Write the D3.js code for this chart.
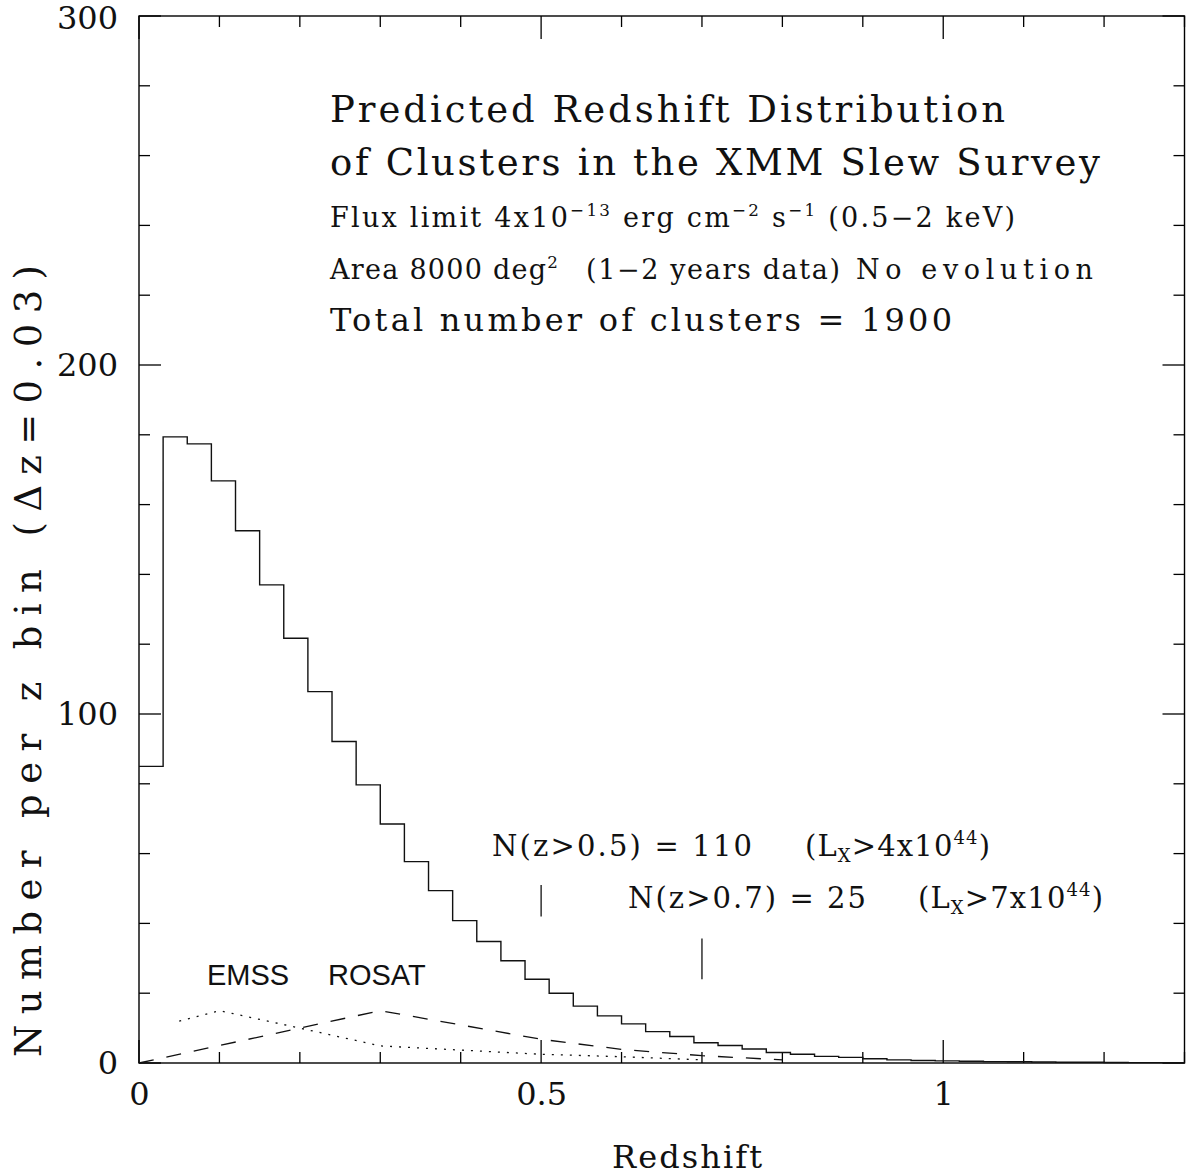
<!DOCTYPE html>
<html>
<head>
<meta charset="utf-8">
<script src="https://cdn.jsdelivr.net/npm/d3@7"></script>
<style>
  body { margin: 0; background: #fff; }
  text { font-family: "DejaVu Serif", serif; fill: #111; }
  .sans { font-family: "Liberation Sans", Arial, sans-serif; }
</style>
</head>
<body>
<div id="graph"></div>
<script>
// DATA

// histogram, bins of dz = 0.03 starting at z = 0
let binWidth = 0.03;
let counts = [85, 179.4, 177.4, 166.8, 152.5, 137, 121.7, 106.4, 92.1, 79.7,
    68.5, 57.7, 49.4, 40.8, 34.8, 29.3, 24.0, 20.0, 16.3, 13.5,
    11.2, 9.0, 7.6, 5.8, 5.0, 4.0, 3.0, 2.5, 1.9, 1.6,
    1.2, 0.9, 0.7, 0.6, 0.5, 0.4, 0.35, 0.3, 0.2, 0.2,
    0.15, 0.1, 0.1, 0.1];

// EMSS (dotted) and ROSAT (dashed) curves
let emssZ = [0.05, 0.1, 0.2, 0.3, 0.4, 0.5, 0.6, 0.7];
let emssN = [12, 15, 10, 4.9, 3.7, 2.5, 1.8, 0.9];
let rosatZ = [0, 0.1, 0.2, 0.3, 0.4, 0.5, 0.6, 0.7, 0.8];
let rosatN = [0, 5, 10, 15, 10.9, 6.8, 3.9, 2.1, 0.9];

// small vertical markers at z = 0.5 and z = 0.7
let markerZ = [0.5, 0.7];
let markerLow = [42, 24];
let markerHigh = [51, 35.7];

// ticks
let xLabels = [0, 0.5, 1];
let xMinor = d3.range(0, 1.3001, 0.1);
let yLabels = [0, 100, 200, 300];
let yMinor = d3.range(0, 300.001, 20);

// DIMENSIONS
let width = 1186, height = 1175;
let plotLeft = 139, plotRight = 1184.5, plotTop = 16, plotBottom = 1063;

let x = d3.scaleLinear().domain([0, 1.3]).range([plotLeft, plotRight]);
let y = d3.scaleLinear().domain([0, 300]).range([plotBottom, plotTop]);

let svg = d3.select('#graph').append('svg')
    .attr('width', width)
    .attr('height', height)
    .style('display', 'block');

svg.append('rect').attr('width', width).attr('height', height).attr('fill', '#fff');

// frame
svg.append('rect')
    .attr('x', plotLeft).attr('y', plotTop)
    .attr('width', plotRight - plotLeft).attr('height', plotBottom - plotTop)
    .attr('fill', 'none').attr('stroke', '#000').attr('stroke-width', 1.4);

// tick marks on all four sides
let ticks = svg.append('g').attr('stroke', '#000').attr('stroke-width', 1.3);

xMinor.forEach(function(v) {
    let major = xLabels.some(l => Math.abs(l - v) < 1e-6);
    let len = major ? 23 : 11;
    let px = x(v);
    ticks.append('line').attr('x1', px).attr('x2', px).attr('y1', plotBottom).attr('y2', plotBottom - len);
    ticks.append('line').attr('x1', px).attr('x2', px).attr('y1', plotTop).attr('y2', plotTop + len);
});

yMinor.forEach(function(v) {
    let major = yLabels.indexOf(Math.round(v)) >= 0;
    let len = major ? 22 : 11;
    let py = y(v);
    ticks.append('line').attr('x1', plotLeft).attr('x2', plotLeft + len).attr('y1', py).attr('y2', py);
    ticks.append('line').attr('x1', plotRight).attr('x2', plotRight - len).attr('y1', py).attr('y2', py);
});

// tick labels
let xAxis = svg.append('g')
    .attr('transform', 'translate(0,' + plotBottom + ')')
    .call(d3.axisBottom(x).tickValues(xLabels).tickSize(0).tickPadding(19).tickFormat(d => String(d)));
xAxis.select('.domain').remove();
xAxis.selectAll('text').attr('font-family', '"DejaVu Serif", serif').attr('font-size', 32).attr('fill', '#111');

let yAxis = svg.append('g')
    .attr('transform', 'translate(' + plotLeft + ',0)')
    .call(d3.axisLeft(y).tickValues(yLabels).tickSize(0).tickPadding(21).tickFormat(d => String(d)));
yAxis.select('.domain').remove();
yAxis.selectAll('text').attr('font-family', '"DejaVu Serif", serif').attr('font-size', 32).attr('fill', '#111');
yAxis.selectAll('text').filter(d => d === 300).attr('dy', '0.40em');

// HISTOGRAM
let steps = counts.map((c, i) => [i * binWidth, c]);
steps.push([1.3, counts[counts.length - 1]]);

let stepLine = d3.line()
    .x(d => x(d[0]))
    .y(d => y(d[1]))
    .curve(d3.curveStepAfter);

svg.append('path')
    .attr('d', stepLine(steps))
    .attr('fill', 'none')
    .attr('stroke', '#111')
    .attr('stroke-width', 1.4);

// EMSS / ROSAT curves
let curve = d3.line().x(d => x(d[0])).y(d => y(d[1]));

svg.append('path')
    .attr('d', curve(emssZ.map((z, i) => [z, emssN[i]])))
    .attr('fill', 'none').attr('stroke', '#111').attr('stroke-width', 1.3)
    .attr('stroke-dasharray', '2,7');

svg.append('path')
    .attr('d', curve(rosatZ.map((z, i) => [z, rosatN[i]])))
    .attr('fill', 'none').attr('stroke', '#111').attr('stroke-width', 1.3)
    .attr('stroke-dasharray', '15,13');

// markers
markerZ.forEach(function(z, i) {
    svg.append('line')
        .attr('x1', x(z)).attr('x2', x(z))
        .attr('y1', y(markerLow[i])).attr('y2', y(markerHigh[i]))
        .attr('stroke', '#111').attr('stroke-width', 1.3);
});

// TEXT
function richText(px, py, size, parts) {
    let t = svg.append('text').attr('x', px).attr('y', py).attr('font-size', size);
    let shift = 0;
    parts.forEach(function(p) {
        let off = p[1] === 'sup' ? -size * 0.42 : (p[1] === 'sub' ? size * 0.22 : 0);
        t.append('tspan')
            .attr('dy', off - shift)
            .attr('font-size', p[1] ? size * 0.62 : size)
            .text(p[0]);
        shift = off;
    });
    return t;
}

// spread letters so the line ends where the reference ends
function fitWidth(t, w) {
    let n = t.text().length;
    let cur = t.node().getComputedTextLength();
    t.attr('letter-spacing', (w - cur) / (n - 1));
}

fitWidth(richText(330, 122, 37, [['Predicted Redshift Distribution']]), 675);
fitWidth(richText(330, 175, 37, [['of Clusters in the XMM Slew Survey']]), 770);
fitWidth(richText(330, 227, 27, [['Flux limit 4x10'], ['−13', 'sup'], [' erg cm'], ['−2', 'sup'], [' s'], ['−1', 'sup'], [' (0.5−2 keV)']]), 685);
fitWidth(richText(330, 279, 27, [['Area 8000 deg'], ['2', 'sup']]), 228);
fitWidth(richText(586, 279, 27, [['(1−2 years data)']]), 254);
fitWidth(richText(856, 279, 27, [['No evolution']]), 237);
fitWidth(richText(330, 331, 32, [['Total number of clusters = 1900']]), 622);

fitWidth(richText(492, 856, 29, [['N(z>0.5) = 110']]), 260);
fitWidth(richText(805, 856, 29, [['(L'], ['X', 'sub'], ['>4x10'], ['44', 'sup'], [')']]), 185);
fitWidth(richText(628, 908, 29, [['N(z>0.7) = 25']]), 238);
fitWidth(richText(918, 908, 29, [['(L'], ['X', 'sub'], ['>7x10'], ['44', 'sup'], [')']]), 185);

svg.append('text').attr('class', 'sans').attr('x', 207).attr('y', 985).attr('font-size', 29).text('EMSS');
svg.append('text').attr('class', 'sans').attr('x', 328).attr('y', 985).attr('font-size', 29).text('ROSAT');

// axis titles
let xt = svg.append('text').attr('x', 612).attr('y', 1168).attr('font-size', 32).text('Redshift');
fitWidth(xt, 150);

let yt = svg.append('text')
    .attr('transform', 'translate(41,1057) rotate(-90)')
    .attr('font-size', 37)
    .text('Number per z bin (Δz=0.03)');
fitWidth(yt, 792);
</script>
</body>
</html>
